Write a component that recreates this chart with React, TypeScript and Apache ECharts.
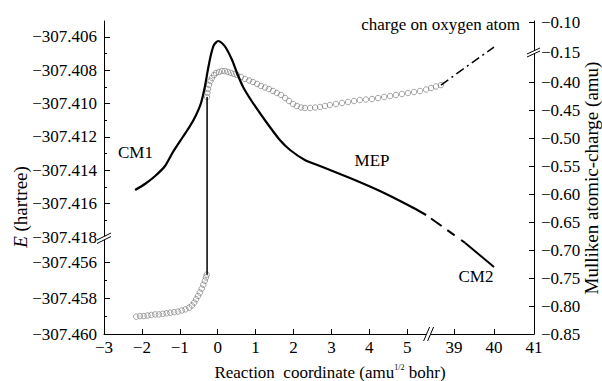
import React, { useEffect, useRef } from "react";
import * as echarts from "echarts";

// ---------- data ----------
const xTicks = [-3, -2, -1, 0, 1, 2, 3, 4, 5, 39, 40, 41];
const eLabelTicks = [-307.406, -307.408, -307.41, -307.412, -307.414, -307.416, -307.418, -307.456, -307.458, -307.46];
const eMajorTicks = [-307.406, -307.408, -307.41, -307.412, -307.414, -307.416, -307.456, -307.458, -307.46];
const eMinorTicks = [-307.405, -307.407, -307.409, -307.411, -307.413, -307.415, -307.417, -307.457, -307.459];
const qLabelTicks = [-0.1, -0.15, -0.4, -0.45, -0.5, -0.55, -0.6, -0.65, -0.7, -0.75, -0.8, -0.85];
const qMajorTicks = [-0.1, -0.4, -0.45, -0.5, -0.55, -0.6, -0.65, -0.7, -0.75, -0.8, -0.85];

// MEP energy (hartree)
const mepX = [-2.18, -1.92, -1.65, -1.39, -1.18, -0.94, -0.73, -0.57, -0.44, -0.34, -0.26, -0.18, -0.1, 0.01, 0.11, 0.22, 0.38, 0.51, 0.67, 0.93, 1.3, 1.64, 1.91, 2.3, 2.7, 3.49, 4.28, 5.07, 5.5];
const mepE = [-307.41518, -307.41482, -307.41434, -307.41374, -307.4129, -307.41206, -307.41134, -307.41068, -307.40996, -307.409, -307.40798, -307.40708, -307.40648, -307.40624, -307.40636, -307.40666, -307.40738, -307.40816, -307.409, -307.40996, -307.41116, -307.41218, -307.41278, -307.41338, -307.41374, -307.41446, -307.41524, -307.41614, -307.41668];
const linkX = [5.5, 39.28];
const linkE = [-307.41668, -307.45494];
const cm2X = [39.28, 40.0];
const cm2E = [-307.45494, -307.45628];

// charge on oxygen atom (amu)
const qLowX = [-2.15, -2.05, -1.95, -1.85, -1.75, -1.65, -1.55, -1.45, -1.35, -1.25, -1.15, -1.05, -0.95, -0.85, -0.75, -0.68, -0.62, -0.57, -0.52, -0.47, -0.42, -0.38, -0.34, -0.31, -0.29];
const qLow = [-0.819, -0.818, -0.818, -0.817, -0.816, -0.815, -0.815, -0.814, -0.813, -0.812, -0.811, -0.81, -0.808, -0.806, -0.803, -0.799, -0.794, -0.788, -0.782, -0.776, -0.769, -0.762, -0.755, -0.749, -0.744];
const qJumpX = [-0.28, -0.28];
const qJump = [-0.744, -0.4268];
const qHighX = [-0.282, -0.27, -0.256, -0.23, -0.19, -0.15, -0.098, -0.045, 0.034, 0.113, 0.19, 0.27, 0.35, 0.43, 0.51, 0.615, 0.72, 0.826, 0.93, 1.04, 1.14, 1.25, 1.35, 1.46, 1.56, 1.67, 1.78, 1.88, 1.99, 2.09, 2.2, 2.3, 2.44, 2.57, 2.7, 2.83, 2.96, 3.12, 3.28, 3.44, 3.6, 3.75, 3.91, 4.07, 4.23, 4.39, 4.55, 4.7, 4.86, 5.02, 5.18, 5.34, 5.5, 5.63, 5.76, 5.89];
const qHigh = [-0.4268, -0.4196, -0.4125, -0.4054, -0.3982, -0.3929, -0.3875, -0.3839, -0.3821, -0.3804, -0.3804, -0.3821, -0.3839, -0.3857, -0.3875, -0.3911, -0.3946, -0.3973, -0.4, -0.4036, -0.4071, -0.4098, -0.4125, -0.4161, -0.4196, -0.4232, -0.4286, -0.4339, -0.4393, -0.4429, -0.4455, -0.4464, -0.4464, -0.4455, -0.4446, -0.4429, -0.4411, -0.4393, -0.4375, -0.4357, -0.4339, -0.4321, -0.4313, -0.4304, -0.4286, -0.4268, -0.425, -0.4232, -0.4214, -0.4196, -0.4179, -0.4161, -0.4134, -0.4107, -0.408, -0.4054];
const qTailX = [5.89, 40];
const qTail = [-0.4054, -0.1417];

// ---------- broken-axis scales ----------
const ux = (x: number) => (x < 20 ? (x + 3) * 37.9 : 350 + (x - 39) * 40);
const ve = (e: number) => {
  if (e >= -307.418) return 97 + (e + 307.418) * 16667;
  if (e <= -307.4546) return (e + 307.46) * 18000;
  return 97;
};
const wq = (c: number) => {
  if (c <= -0.3464) return (c + 0.85) * 560;
  if (c >= -0.15) return 282 + (c + 0.15) * 600;
  return 282;
};

const FONT = "'Liberation Serif', serif";
const MINUS = "\u2212";
const fmtNum = (v: number, d: number) => (v < 0 ? MINUS : "") + Math.abs(v).toFixed(d);
const makeFormatter = (ticks: number[], f: (t: number) => number, d: number) => (value: number) => {
  let best = ticks[0];
  let bd = Infinity;
  for (const t of ticks) {
    const dd = Math.abs(f(t) - value);
    if (dd < bd) { bd = dd; best = t; }
  }
  return fmtNum(best, d);
};

const pairs = (xs: number[], ys: number[], fy: (v: number) => number) => xs.map((x, i) => [ux(x), fy(ys[i])]);

export default function App() {
  const ref = useRef<HTMLDivElement>(null);
  useEffect(() => {
    document.body.style.margin = "0";
    const chart = echarts.init(ref.current!, null, { renderer: "svg" });
    const black = "#000";
    const axisLabelBase = { color: black, fontFamily: FONT, fontSize: 17 };
    const circleStyle = { color: "rgba(255,255,255,0)", borderColor: "#707070", borderWidth: 0.8 };
    const option: any = {
      animation: false,
      backgroundColor: "#fff",
      textStyle: { fontFamily: FONT, color: black },
      grid: { left: 104, right: 68, top: 21, bottom: 47 },
      xAxis: {
        type: "value",
        min: 0,
        max: 430,
        axisLine: { show: true, lineStyle: { color: black, width: 1 } },
        axisTick: { show: true, inside: true, length: 5, customValues: xTicks.map(ux), lineStyle: { color: black } },
        axisLabel: { ...axisLabelBase, margin: 5, customValues: xTicks.map(ux), formatter: makeFormatter(xTicks, ux, 0) },
        splitLine: { show: false },
      },
      yAxis: [
        {
          type: "value",
          position: "left",
          min: 0,
          max: 313,
          axisLine: { show: true, lineStyle: { color: black, width: 1 } },
          axisTick: { show: true, inside: true, length: 6, customValues: eMajorTicks.map(ve), lineStyle: { color: black } },
          axisLabel: { ...axisLabelBase, margin: 7, customValues: eLabelTicks.map(ve), formatter: makeFormatter(eLabelTicks, ve, 3) },
          splitLine: { show: false },
        },
        {
          type: "value",
          position: "right",
          min: 0,
          max: 313,
          axisLine: { show: true, lineStyle: { color: black, width: 1 } },
          axisTick: { show: true, inside: true, length: 5, customValues: qMajorTicks.map(wq), lineStyle: { color: black } },
          axisLabel: { ...axisLabelBase, margin: 7, customValues: qLabelTicks.map(wq), formatter: makeFormatter(qLabelTicks, wq, 2) },
          splitLine: { show: false },
        },
        {
          type: "value",
          position: "left",
          min: 0,
          max: 313,
          axisLine: { show: false },
          axisTick: { show: true, inside: true, length: 3, customValues: eMinorTicks.map(ve), lineStyle: { color: black } },
          axisLabel: { show: false },
          splitLine: { show: false },
        },
      ],
      series: [
        { type: "scatter", yAxisIndex: 1, data: pairs(qLowX, qLow, wq), symbol: "circle", symbolSize: 5.5, itemStyle: circleStyle, z: 2 },
        { type: "scatter", yAxisIndex: 1, data: pairs(qHighX, qHigh, wq), symbol: "circle", symbolSize: 5.5, itemStyle: circleStyle, z: 2 },
        { type: "line", yAxisIndex: 1, data: pairs(qJumpX, qJump, wq), symbol: "none", lineStyle: { color: black, width: 1.5 }, z: 3 },
        { type: "line", yAxisIndex: 1, data: pairs(qTailX, qTail, wq), symbol: "none", lineStyle: { color: black, width: 1.5, type: [9, 4, 2, 4] }, z: 3 },
        { type: "line", yAxisIndex: 0, data: pairs(mepX, mepE, ve), symbol: "none", smooth: 0.2, lineStyle: { color: black, width: 2.2 }, z: 4 },
        { type: "line", yAxisIndex: 0, data: pairs(linkX, linkE, ve), symbol: "none", lineStyle: { color: black, width: 2, type: [0, 6, 13, 7, 9, 8, 100] }, z: 4 },
        { type: "line", yAxisIndex: 0, data: pairs(cm2X, cm2E, ve), symbol: "none", lineStyle: { color: black, width: 2 }, z: 4 },
      ],
    };
    chart.setOption(option);

    const px = (xv: number) => chart.convertToPixel({ xAxisIndex: 0 }, ux(xv)) as number;
    const pyE = (e: number) => chart.convertToPixel({ yAxisIndex: 0 }, ve(e)) as number;
    const pyQ = (c: number) => chart.convertToPixel({ yAxisIndex: 1 }, wq(c)) as number;
    const left = px(-3);
    const right = px(41);
    const bottom = pyE(-307.46);
    const yBreakL = pyE(-307.418) + 1;
    const yBreakR = pyQ(-0.15) - 1;
    const xBreak = (px(5) + px(39)) / 2 - 4;

    const brk = (pts1: number[][], pts2: number[][]) => [
      { type: "polygon", shape: { points: [pts1[0], pts1[1], pts2[1], pts2[0]] }, style: { fill: "#fff" }, z: 100 },
      { type: "line", shape: { x1: pts1[0][0], y1: pts1[0][1], x2: pts1[1][0], y2: pts1[1][1] }, style: { stroke: black, lineWidth: 1 }, z: 101 },
      { type: "line", shape: { x1: pts2[0][0], y1: pts2[0][1], x2: pts2[1][0], y2: pts2[1][1] }, style: { stroke: black, lineWidth: 1 }, z: 101 },
    ];

    const textStyle = { fill: black, fontFamily: FONT, fontSize: 17 };
    chart.setOption({
      graphic: [
        ...brk([[left - 7, yBreakL + 2], [left + 7, yBreakL - 5]], [[left - 7, yBreakL + 5.5], [left + 7, yBreakL - 1.5]]),
        ...brk([[right - 7, yBreakR + 3], [right + 6, yBreakR - 3]], [[right - 7, yBreakR + 6], [right + 6, yBreakR]]),
        ...brk([[xBreak - 3, bottom + 7], [xBreak + 3, bottom - 7]], [[xBreak + 1, bottom + 7], [xBreak + 7, bottom - 7]]),
        { type: "text", x: 118, y: 152, style: { ...textStyle, text: "CM1", textAlign: "left", textVerticalAlign: "middle" }, z: 50 },
        { type: "text", x: 372, y: 160, style: { ...textStyle, text: "MEP", textAlign: "center", textVerticalAlign: "middle" }, z: 50 },
        { type: "text", x: 476, y: 276, style: { ...textStyle, text: "CM2", textAlign: "center", textVerticalAlign: "middle" }, z: 50 },
        { type: "text", x: 520, y: 24, style: { ...textStyle, text: "charge on oxygen atom", textAlign: "right", textVerticalAlign: "middle" }, z: 50 },
        {
          type: "text",
          x: 20,
          y: 207,
          rotation: Math.PI / 2,
          style: {
            ...textStyle,
            fontSize: 19,
            text: "{i|E} (hartree)",
            textAlign: "center",
            textVerticalAlign: "middle",
            rich: { i: { fontStyle: "italic", fontFamily: FONT, fontSize: 19, fill: black } },
          },
          z: 50,
        },
        {
          type: "text",
          x: 591,
          y: 178,
          rotation: Math.PI / 2,
          style: { ...textStyle, fontSize: 19, text: "Mulliken atomic-charge (amu)", textAlign: "center", textVerticalAlign: "middle" },
          z: 50,
        },
        {
          type: "text",
          x: 330,
          y: 372,
          style: {
            ...textStyle,
            text: "Reaction  coordinate (amu{s|1/2} bohr)",
            textAlign: "center",
            textVerticalAlign: "middle",
            rich: { s: { fontSize: 8, fontFamily: FONT, fill: black, verticalAlign: "top" } },
          },
          z: 50,
        },
      ],
    });
    return () => chart.dispose();
  }, []);
  return (
    <>
      <style>{`#root svg text { font-family: "Liberation Serif", serif !important; }`}</style>
      <div ref={ref} style={{ width: 602, height: 381 }} />
    </>
  );
}
